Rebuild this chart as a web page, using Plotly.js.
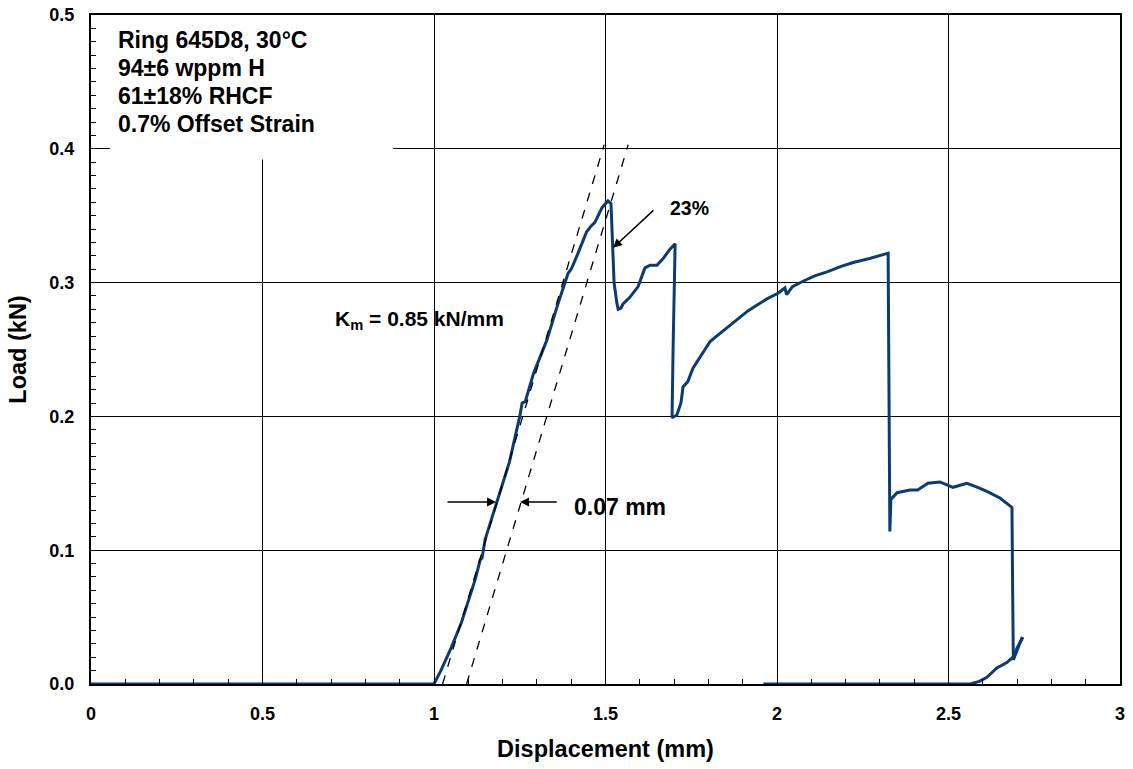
<!DOCTYPE html>
<html>
<head>
<meta charset="utf-8">
<script src="https://cdn.plot.ly/plotly-3.0.1.min.js"></script>
<style>html,body{margin:0;padding:0;background:#fff;}#chart{width:1133px;height:769px;}</style>
</head>
<body>
<div id="chart"></div>
<script>
// Main load-displacement trace
const loadX = [0,0.25,0.5,0.75,1.0,
  1.02,1.05,1.08,1.10,1.12,1.135,1.14,1.149,1.184,1.22,1.25,1.257,1.266,1.29,1.329,1.36,1.391,1.40,1.42,1.432,1.445,1.457,1.469,1.49,1.507,1.516,
  1.52,1.525,1.533,1.537,1.545,1.551,1.571,1.595,1.615,1.630,1.650,1.668,1.688,1.703,
  1.697,1.694,1.708,1.72,1.726,1.74,1.755,1.768,1.781,1.793,1.805,1.824,1.843,1.867,1.892,1.916,1.941,1.972,2.003,2.023,2.028,2.045,2.076,2.11,2.146,2.185,2.222,2.27,2.324,
  2.327,2.329,2.332,2.35,2.388,2.41,2.44,2.475,2.513,2.554,2.585,2.612,2.65,2.685,
  2.687,2.689,2.715];
const loadY = [0,0,0,0,0,
  0.01,0.027,0.046,0.062,0.078,0.093,0.094,0.108,0.136,0.166,0.2,0.21,0.211,0.232,0.257,0.283,0.307,0.31,0.322,0.33,0.338,0.342,0.345,0.356,0.361,0.359,
  0.33,0.3,0.285,0.28,0.281,0.284,0.289,0.297,0.311,0.313,0.313,0.318,0.325,0.329,
  0.25,0.199,0.201,0.21,0.222,0.226,0.236,0.241,0.246,0.251,0.256,0.260,0.264,0.269,0.274,0.279,0.283,0.288,0.292,0.296,0.291,0.297,0.301,0.305,0.308,0.312,0.315,0.318,0.322,
  0.2,0.114,0.138,0.143,0.145,0.145,0.15,0.151,0.147,0.15,0.147,0.144,0.139,0.132,
  0.07,0.018,0.035];
// Second (reload) segment
const reloadX = [1.96,2.2,2.4,2.563,2.59,2.612,2.641,2.67,2.688,2.70,2.717];
const reloadY = [0,0,0,0,0.002,0.005,0.012,0.016,0.02,0.027,0.035];
// Modulus lines (0.85 kN/mm) and 0.07 mm offset
const modX = [1.025,1.496];
const modY = [0,0.403];
const offX = [1.095,1.566];
const offY = [0,0.403];
// Text
const infoLines = ["Ring 645D8, 30°C","94±6 wppm H","61±18% RHCF","0.7% Offset Strain"];
const xTickVals = [0,0.5,1,1.5,2,2.5,3];
const xTickText = ["0","0.5","1","1.5","2","2.5","3"];
const yTickVals = [0,0.1,0.2,0.3,0.4,0.5];
const yTickText = ["0.0","0.1","0.2","0.3","0.4","0.5"];

const FONT = "Liberation Sans, Arial, sans-serif";
const lineColor = "#0a3c72";

const traces = [
  {x: loadX, y: loadY, mode: "lines", line: {color: lineColor, width: 3}, hoverinfo: "skip"},
  {x: reloadX, y: reloadY, mode: "lines", line: {color: lineColor, width: 3}, hoverinfo: "skip"},
  {x: modX, y: modY, mode: "lines", line: {color: "black", width: 1.3, dash: "dash"}, hoverinfo: "skip"},
  {x: offX, y: offY, mode: "lines", line: {color: "black", width: 1.3, dash: "dash"}, hoverinfo: "skip"}
];

const annotations = infoLines.map((t, i) => ({
  x: 0.074, y: 0.481 - i * 0.0209, xref: "x", yref: "y", text: t, showarrow: false,
  xanchor: "left", yanchor: "middle", align: "left",
  font: {family: FONT, size: 23, weight: "bold", color: "black"}
}));
annotations.push(
  {x: 0.706, y: 0.272, xref: "x", yref: "y", text: "K<sub>m</sub> = 0.85 kN/mm", showarrow: false,
   xanchor: "left", yanchor: "middle", font: {family: FONT, size: 21, weight: "bold", color: "black"}},
  {x: 1.682, y: 0.356, xref: "x", yref: "y", text: "23%", showarrow: false,
   xanchor: "left", yanchor: "middle", font: {family: FONT, size: 19.5, weight: "bold", color: "black"}},
  {x: 1.522, y: 0.326, ax: 1.644, ay: 0.355, xref: "x", yref: "y", axref: "x", ayref: "y", text: "",
   showarrow: true, arrowhead: 2, arrowsize: 1.2, arrowwidth: 1.5, arrowcolor: "black"},
  {x: 1.402, y: 0.132, xref: "x", yref: "y", text: "0.07 mm", showarrow: false,
   xanchor: "left", yanchor: "middle", font: {family: FONT, size: 23, weight: "bold", color: "black"}},
  {x: 1.181, y: 0.136, ax: 1.035, ay: 0.136, xref: "x", yref: "y", axref: "x", ayref: "y", text: "",
   showarrow: true, arrowhead: 2, arrowsize: 1.2, arrowwidth: 1.5, arrowcolor: "black"},
  {x: 1.251, y: 0.136, ax: 1.362, ay: 0.136, xref: "x", yref: "y", axref: "x", ayref: "y", text: "",
   showarrow: true, arrowhead: 2, arrowsize: 1.2, arrowwidth: 1.5, arrowcolor: "black"}
);

const layout = {
  width: 1133, height: 769,
  margin: {l: 91, r: 13, t: 15, b: 85},
  paper_bgcolor: "white", plot_bgcolor: "white",
  showlegend: false,
  xaxis: {
    range: [0, 3], tickvals: xTickVals, ticktext: xTickText,
    showgrid: true, gridcolor: "black", gridwidth: 1,
    showline: true, linecolor: "black", linewidth: 2, mirror: true,
    ticks: "inside", ticklen: 6, tickcolor: "black",
    minor: {dtick: 0.1, ticks: "inside", ticklen: 5, tickcolor: "black", showgrid: false},
    zeroline: false, ticklabelstandoff: 12,
    tickfont: {family: FONT, size: 18, weight: "bold", color: "black"},
    title: {text: "Displacement (mm)", font: {family: FONT, size: 23.5, weight: "bold", color: "black"}, standoff: 18}
  },
  yaxis: {
    range: [0, 0.5], tickvals: yTickVals, ticktext: yTickText,
    showgrid: true, gridcolor: "black", gridwidth: 1,
    showline: true, linecolor: "black", linewidth: 2, mirror: true,
    ticks: "inside", ticklen: 6, tickcolor: "black",
    minor: {dtick: 0.01, ticks: "inside", ticklen: 5, tickcolor: "black", showgrid: false},
    zeroline: false, ticklabelstandoff: 11,
    tickfont: {family: FONT, size: 18, weight: "bold", color: "black"},
    title: {text: "Load (kN)", font: {family: FONT, size: 23.5, weight: "bold", color: "black"}, standoff: 16}
  },
  shapes: [
    {type: "rect", xref: "x", yref: "y", x0: 0.055, x1: 0.88, y0: 0.392, y1: 0.5,
     fillcolor: "white", line: {width: 0}, layer: "between"}
  ],
  annotations: annotations
};

Plotly.newPlot("chart", traces, layout, {displayModeBar: false, staticPlot: true});
</script>
</body>
</html>
